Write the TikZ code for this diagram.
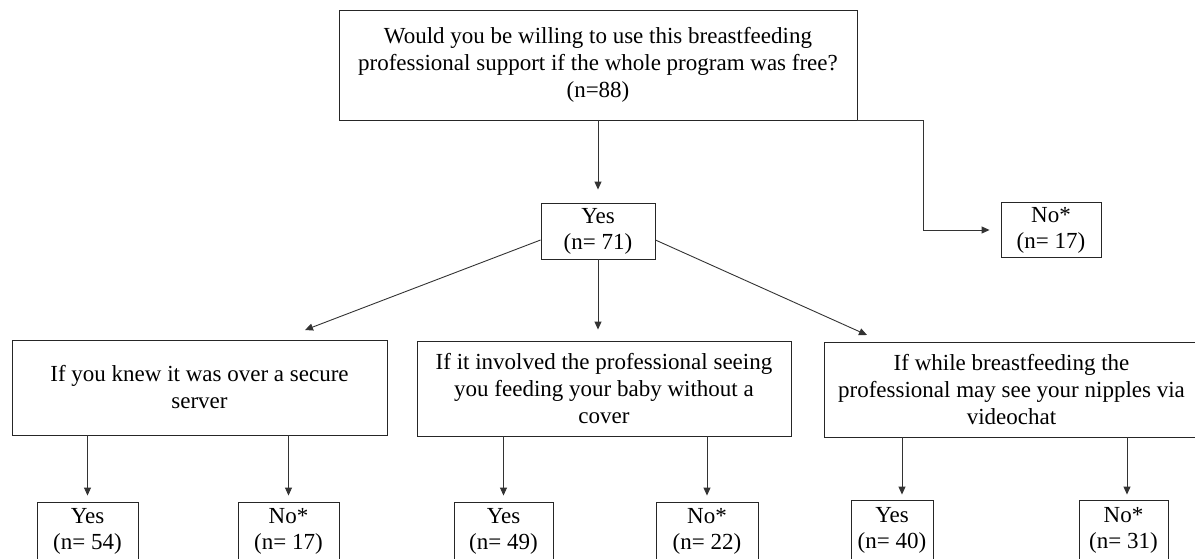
\documentclass[tikz,border=0pt]{standalone}
\usepackage{fontspec}
\setmainfont{Liberation Serif}
\usetikzlibrary{arrows.meta,calc}
\tikzset{
  box/.style={draw=black!85, line width=0.9pt, inner sep=0pt, align=center,
    font=\fontsize{23}{27}\selectfont},
  smallbox/.style={box, font=\fontsize{23}{26}\selectfont},
  conn/.style={draw=black!80, line width=0.9pt, -{Triangle[length=8pt,width=7pt]}},
}
\begin{document}
\begin{tikzpicture}[x=1pt,y=-1pt]
\useasboundingbox (0,0) rectangle (1195,558);
\clip (0,0) rectangle (1195,558);

% top question
\node[box, minimum width=518pt, minimum height=110pt] (q) at (598,65)
  {Would you be willing to use this breastfeeding\\professional support if the whole program was free?\\(n=88)};
\node[smallbox, minimum width=114pt, minimum height=56pt] (y) at (598,231) {Yes\\(n= 71)};
\node[smallbox, minimum width=100pt, minimum height=55pt] (n) at (1051,230) {No*\\(n= 17)};

% second level questions
\node[box, minimum width=375pt, minimum height=95pt] (b1) at (199.5,387.5)
  {If you knew it was over a secure\\server};
\node[box, minimum width=374pt, minimum height=95pt] (b2) at (604,388.5)
  {If it involved the professional seeing\\you feeding your baby without a\\cover};
\node[box, minimum width=375pt, minimum height=95pt] (b3) at (1011.5,389.5)
  {If while breastfeeding the\\professional may see your nipples via\\videochat};

% leaves
\node[smallbox, minimum width=101pt, minimum height=58pt] (y1) at (87.5,531) {Yes\\(n= 54)};
\node[smallbox, minimum width=101pt, minimum height=58pt] (n1) at (288.5,531) {No*\\(n= 17)};
\node[smallbox, minimum width=99pt, minimum height=58pt] (y2) at (503.5,531) {Yes\\(n= 49)};
\node[smallbox, minimum width=102pt, minimum height=58pt] (n2) at (707,531) {No*\\(n= 22)};
\node[smallbox, minimum width=82pt, minimum height=60pt] (y3) at (892,530) {Yes\\(n= 40)};
\node[smallbox, minimum width=89pt, minimum height=60pt] (n3) at (1123.5,530) {No*\\(n= 31)};

\coordinate (tl) at (305,330);
\coordinate (tr) at (867,335);

% connectors
\draw[conn, shorten >=13pt] (q.south) -- (y.north);
\draw[conn, shorten >=11pt] (q.south east) -- ++(66,0) |- (n.west);
\draw[conn] ([yshift=-9pt]y.west) -- (tl);
\draw[conn] ([yshift=-9pt]y.east) -- (tr);
\draw[conn, shorten >=11pt] (y.south) -- (y.south |- b2.north);

\draw[conn, shorten >=6pt] (y1.north |- b1.south) -- (y1.north);
\draw[conn, shorten >=6pt] (n1.north |- b1.south) -- (n1.north);
\draw[conn, shorten >=6pt] (y2.north |- b2.south) -- (y2.north);
\draw[conn, shorten >=6pt] (n2.north |- b2.south) -- (n2.north);
\draw[conn, shorten >=5pt] ([xshift=10pt]y3.north |- b3.south) -- ([xshift=10pt]y3.north);
\draw[conn, shorten >=5pt] ([xshift=3.5pt]n3.north |- b3.south) -- ([xshift=3.5pt]n3.north);
\end{tikzpicture}
\end{document}
